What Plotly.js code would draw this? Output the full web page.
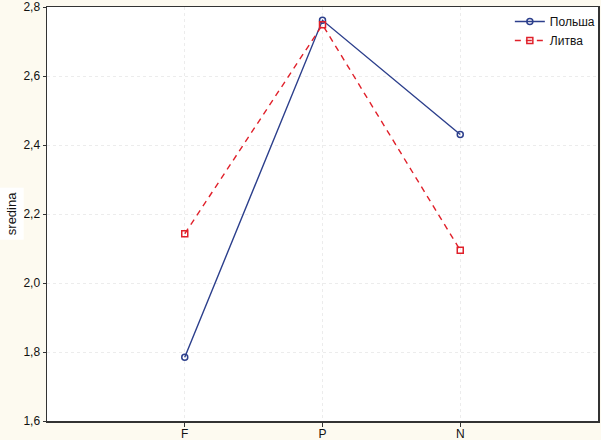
<!DOCTYPE html>
<html><head><meta charset="utf-8">
<script src="https://cdn.plot.ly/plotly-3.0.1.min.js"></script>
<style>html,body{margin:0;padding:0;background:#fdfaf0;}</style>
</head><body>
<div id="chart" style="width:601px;height:440px;"></div>
<script>
const categories = ["F", "P", "N"];
const polandValues = [1.785, 2.762, 2.431];
const lithuaniaValues = [2.143, 2.749, 2.095];
const seriesNames = ["Польша", "Литва"];
const yTicks = [1.6, 1.8, 2.0, 2.2, 2.4, 2.6, 2.8];

const fontFam = '"Liberation Sans Narrow", "Arial Narrow", "Liberation Sans", Arial, sans-serif';

const traces = [
  {x: categories, y: polandValues, name: seriesNames[0], type: 'scatter', mode: 'lines+markers',
   line: {color: '#2c3f8c', width: 1.4},
   marker: {symbol: 'circle-open', size: 6, color: '#2c3f8c', line: {width: 1.5}}},
  {x: categories, y: lithuaniaValues, name: seriesNames[1], type: 'scatter', mode: 'lines+markers',
   line: {color: '#e0202a', width: 1.4, dash: '6px,5px'},
   marker: {symbol: 'square-open', size: 6, color: '#e0202a', line: {width: 1.5}}}
];

const layout = {
  width: 601, height: 440,
  paper_bgcolor: '#fdfaf0', plot_bgcolor: '#ffffff',
  margin: {l: 47, r: 1, t: 7, b: 19},
  separators: ', ',
  font: {family: fontFam, size: 12, color: '#111'},
  showlegend: true,
  legend: {x: 0.84, y: 1, xanchor: 'left', yanchor: 'top', bgcolor: 'rgba(0,0,0,0)',
           font: {family: fontFam, size: 12, color: '#111'}, tracegroupgap: 0, itemwidth: 30},
  xaxis: {type: 'category', range: [-1, 3], showline: true, mirror: true, linecolor: '#333', linewidth: 1.5,
          ticks: 'outside', ticklen: 4, tickcolor: '#333', showgrid: true, gridcolor: '#ececec', griddash: 'dot',
          zeroline: false, tickfont: {family: fontFam, size: 12}, ticklabelstandoff: -3, fixedrange: true},
  yaxis: {range: [1.6, 2.8005], tickvals: yTicks, tickformat: '.1f', showline: true, mirror: true, linecolor: '#333', linewidth: 1.5,
          ticks: 'outside', ticklen: 3, tickcolor: '#333', showgrid: true, gridcolor: '#ececec', griddash: 'dot',
          zeroline: false, tickfont: {family: fontFam, size: 12}, ticklabeloverflow: 'allow', fixedrange: true},
  annotations: [{text: 'sredina', xref: 'paper', yref: 'paper', x: -0.065, y: 0.5, xanchor: 'center', yanchor: 'middle',
                 textangle: -90, showarrow: false, bgcolor: '#ffffff', borderpad: 4,
                 font: {family: fontFam, size: 13, color: '#111'}}]
};

Plotly.newPlot('chart', traces, layout, {displayModeBar: false, staticPlot: true});
</script>
</body></html>
